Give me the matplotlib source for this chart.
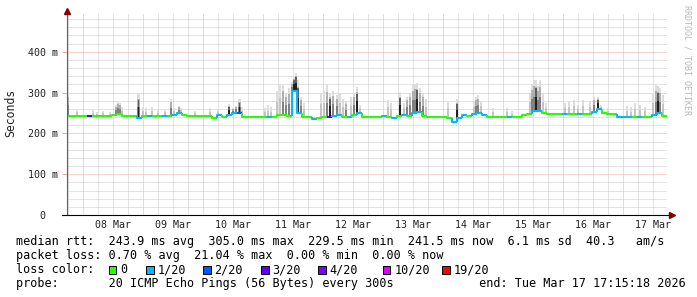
import numpy as np
import pandas as pd
import matplotlib
matplotlib.use("Agg")
import matplotlib.pyplot as plt
import matplotlib.dates as mdates
from matplotlib.collections import LineCollection
from matplotlib.patches import Rectangle
from matplotlib.ticker import MultipleLocator, FuncFormatter
from datetime import datetime, timedelta

# time axis: 10 days, 2 hour bins
start = datetime(2026, 3, 7, 17, 45)
n_bins = 120
bin_hours = 2

# median rtt per bin (ms)
median_ms = [
    243, 243, 243, 243, 243, 243, 243, 243, 243, 246,
    248, 243, 243, 243, 237, 242, 243, 242, 242, 242,
    243, 246, 251, 245, 242, 242, 242, 242, 242, 238,
    244, 241, 245, 251, 249, 240, 239, 239, 239, 239,
    239, 241, 245, 244, 243, 305, 250, 241, 239, 235,
    238, 239, 240, 243, 244, 240, 240, 246, 250, 241,
    240, 240, 240, 242, 241, 237, 243, 245, 243, 250,
    252, 242, 239, 239, 239, 239, 238, 229, 237, 244,
    242, 247, 251, 246, 240, 240, 240, 240, 240, 240,
    240, 246, 248, 254, 254, 249, 248, 248, 248, 248,
    248, 248, 248, 248, 248, 252, 260, 249, 248, 248,
    240, 239, 239, 240, 240, 240, 241, 245, 249, 242,
]

# lost pings (of 20) per bin
loss_cnt = [
    0, 0, 0, 0, 3, 0, 0, 0, 0, 0,
    0, 0, 0, 0, 1, 0, 1, 0, 0, 1,
    0, 1, 1, 0, 0, 0, 0, 0, 0, 0,
    1, 0, 1, 1, 2, 0, 0, 0, 0, 0,
    1, 0, 0, 0, 0, 1, 1, 0, 0, 1,
    0, 0, 3, 1, 1, 0, 1, 0, 1, 0,
    0, 0, 0, 1, 0, 1, 0, 1, 0, 1,
    1, 0, 0, 0, 0, 0, 0, 1, 1, 1,
    0, 1, 1, 1, 0, 0, 0, 0, 1, 0,
    0, 0, 0, 1, 1, 0, 0, 0, 0, 1,
    0, 0, 1, 0, 0, 1, 1, 0, 0, 0,
    1, 1, 1, 0, 1, 0, 0, 1, 1, 0,
]

# smoke spikes: hours after start, max ping (ms), darkness 0..2
spike_hour = [0.2, 4.0, 10.4, 12.0, 14.4, 17.2, 19.6, 20.4, 21.2, 22.0,
              28.6, 30.4, 31.6, 34.0, 36.4, 39.2, 41.6, 42.8, 44.8, 45.6,
              51.2, 57.2, 60.4, 64.8, 66.4, 67.6, 69.0, 70.0, 79.2, 80.4,
              81.6, 84.0, 85.2, 86.4, 87.6, 88.8, 90.0, 90.8, 91.6, 92.4,
              93.6, 94.8, 101.6, 102.8, 104.0, 105.2, 106.4, 108.0, 109.2, 110.4,
              111.6, 113.6, 114.8, 116.0, 117.2, 128.4, 129.6, 133.2, 134.8, 136.0,
              137.2, 138.4, 139.2, 140.0, 141.2, 142.4, 143.6, 152.4, 156.0, 162.8,
              163.6, 164.4, 165.6, 170.4, 176.0, 178.0, 185.2, 186.0, 186.8, 187.6,
              188.4, 189.2, 190.4, 191.6, 199.2, 200.8, 202.8, 204.4, 206.4, 209.2,
              210.8, 212.4, 213.6, 216.4, 224.0, 225.6, 227.2, 229.2, 231.2, 234.4,
              235.6, 236.4, 237.2, 238.4]
spike_top = [302, 260, 257, 252, 254, 252, 270, 278, 275, 265,
             296, 265, 262, 265, 258, 260, 284, 262, 267, 263,
             255, 262, 258, 272, 262, 268, 284, 265, 262, 270,
             265, 305, 322, 318, 300, 310, 325, 340, 348, 330,
             290, 275, 300, 305, 318, 300, 305, 295, 300, 285,
             280, 290, 300, 313, 270, 282, 275, 302, 275, 290,
             300, 318, 322, 323, 310, 300, 285, 280, 284, 280,
             290, 294, 280, 262, 262, 255, 300, 320, 331, 330,
             315, 330, 300, 275, 275, 280, 282, 270, 282, 280,
             289, 290, 270, 262, 268, 265, 275, 270, 265, 300,
             318, 315, 310, 295]
spike_shade = [1, 0, 0, 0, 0, 0, 1, 1, 1, 0,
               2, 0, 0, 0, 0, 0, 1, 0, 1, 0,
               0, 0, 0, 2, 1, 1, 2, 0, 0, 0,
               0, 0, 0, 1, 1, 1, 1, 2, 2, 2,
               1, 0, 0, 0, 1, 2, 1, 1, 0, 0,
               1, 0, 1, 2, 0, 0, 0, 2, 0, 1,
               1, 1, 1, 2, 1, 1, 0, 0, 2, 0,
               1, 1, 0, 0, 0, 0, 0, 1, 1, 2,
               1, 1, 0, 0, 0, 0, 0, 0, 0, 0,
               1, 2, 0, 0, 0, 0, 0, 0, 0, 0,
               1, 2, 1, 0]

loss_levels = [0, 1, 2, 3, 4, 10, 19]
loss_labels = ["0", "1/20", "2/20", "3/20", "4/20", "10/20", "19/20"]
loss_colors = ["#26ff00", "#00b8ff", "#0059ff", "#5e00ff", "#7e00ff", "#dd00ff", "#ff0000"]

W, H = 697, 297
mono = "DejaVu Sans Mono"
plt.rcParams["font.family"] = mono


def fx(px):
    return px / W


def fy(py):
    return 1 - py / H


def color_for(n):
    c = loss_colors[0]
    for lv, col in zip(loss_levels, loss_colors):
        if n >= lv:
            c = col
    return c


fig = plt.figure(figsize=(W / 100, H / 100), dpi=100, facecolor="white")
ax = fig.add_axes([fx(67), 82 / H, 600 / W, 202 / H])
ax.set_facecolor("white")

edges = pd.date_range(start, periods=n_bins + 1, freq=f"{bin_hours}h")
xe = mdates.date2num(edges.to_pydatetime())
end = edges[-1].to_pydatetime()
ymax = 495

# grid
t = start.replace(minute=0, second=0) + timedelta(hours=6 - start.hour % 6)
while t < end:
    col = "#f4a8a8" if t.hour == 0 else "#c8c8c8"
    ax.axvline(mdates.date2num(t), color=col, lw=0.72, ls=(0, (1, 1)), zorder=0)
    t += timedelta(hours=6)
for v in range(20, ymax, 20):
    col = "#f4a8a8" if v % 100 == 0 else "#c8c8c8"
    ax.axhline(v, color=col, lw=0.72, ls=(0, (1, 1)), zorder=0)

# smoke: layered greys, darker near the median
med = np.array(median_ms, dtype=float)
sx = mdates.date2num([start + timedelta(hours=h) for h in spike_hour])
base = np.array([med[min(int(h // bin_hours), n_bins - 1)] for h in spike_hour])
top = np.array(spike_top, dtype=float)
shade = np.array(spike_shade)
span = top - base
bw = 1.0 / 24
layers = [
    (0, 1.00, "#dddddd", 1.0),
    (0, 0.55, "#c4c4c4", 1.0),
    (1, 0.80, "#b0b0b0", 1.0),
    (1, 0.45, "#808080", 1.0),
    (2, 0.75, "#606060", 0.8),
    (2, 0.45, "#202020", 0.6),
]
for z, (lvl, frac, col, wf) in enumerate(layers):
    m = shade >= lvl
    ax.bar(sx[m], span[m] * frac, bottom=base[m], width=bw * wf, color=col, lw=0, zorder=1 + z * 0.1)

# median line coloured by loss
segs, cols = [], []
for i in range(n_bins):
    prev = med[i - 1] if i > 0 else med[i]
    segs.append([(xe[i], prev), (xe[i], med[i]), (xe[i + 1], med[i])])
    cols.append(color_for(loss_cnt[i]))
lc = LineCollection(segs, colors=cols, linewidths=1.5, capstyle="butt", zorder=4)
ax.add_collection(lc)

ax.set_xlim(xe[0], xe[-1])
ax.set_ylim(0, ymax)
for s in ax.spines.values():
    s.set_visible(False)

ax.xaxis.set_major_locator(mdates.HourLocator(byhour=[12]))
ax.xaxis.set_major_formatter(mdates.DateFormatter("%d %b"))
ax.yaxis.set_major_locator(MultipleLocator(100))
ax.yaxis.set_major_formatter(FuncFormatter(lambda v, p: "0" if v == 0 else f"{v:.0f} m"))
ax.tick_params(axis="x", length=0, pad=3.5, labelsize=7.2, colors="#222222")
ax.tick_params(axis="y", length=3.5, width=0.72, color="#f4a8a8", pad=14, labelsize=7.2, labelcolor="#222222")
for lab in ax.get_yticklabels():
    lab.set_ha("center")

# axis lines and arrows
ax.plot([0, 0], [0, 1], transform=ax.transAxes, color="#606060", lw=0.8, clip_on=False, zorder=5)
ax.plot([-5 / 600, 1 + 3 / 600], [0, 0], transform=ax.transAxes, color="black", lw=0.8, clip_on=False, zorder=5)
ax.plot([0], [1 + 2 / 202], marker="^", ms=4, color="#800000", transform=ax.transAxes, clip_on=False, zorder=6)
ax.plot([1 + 5 / 600], [0], marker=">", ms=4, color="#800000", transform=ax.transAxes, clip_on=False, zorder=6)

# labels
fig.text(fx(11), fy(113), "Seconds", rotation=90, ha="center", va="center", fontsize=8.3, color="#222222")
fig.text(fx(687.5), fy(60), "RRDTOOL / TOBI OETIKER", rotation=270, ha="center", va="center",
         fontsize=6, color="#b8b8b8")

# legend
fs = 8.5
fig.text(fx(16.5), fy(245), "median rtt:  243.9 ms avg  305.0 ms max  229.5 ms min  241.5 ms now  6.1 ms sd  40.3   am/s",
         fontsize=fs, va="baseline", color="black")
fig.text(fx(16.5), fy(259.3), "packet loss: 0.70 % avg  21.04 % max  0.00 % min  0.00 % now",
         fontsize=fs, va="baseline", color="black")
fig.text(fx(16.5), fy(273.3), "loss color:", fontsize=fs, va="baseline", color="black")
box_x = [108.5, 146, 203, 261, 318, 383, 442]
for bx, lab, col in zip(box_x, loss_labels, loss_colors):
    fig.patches.append(Rectangle((fx(bx), fy(273.5)), 7.5 / W, 8 / H, transform=fig.transFigure,
                                 facecolor=col, edgecolor="black", lw=0.7))
    fig.text(fx(bx + 11.5), fy(273.3), lab, fontsize=fs, va="baseline", color="black")
fig.text(fx(16.5), fy(287.3), "probe:       20 ICMP Echo Pings (56 Bytes) every 300s            end: Tue Mar 17 17:15:18 2026",
         fontsize=fs, va="baseline", color="black")

fig.savefig("out.png", dpi=100, facecolor="white")
